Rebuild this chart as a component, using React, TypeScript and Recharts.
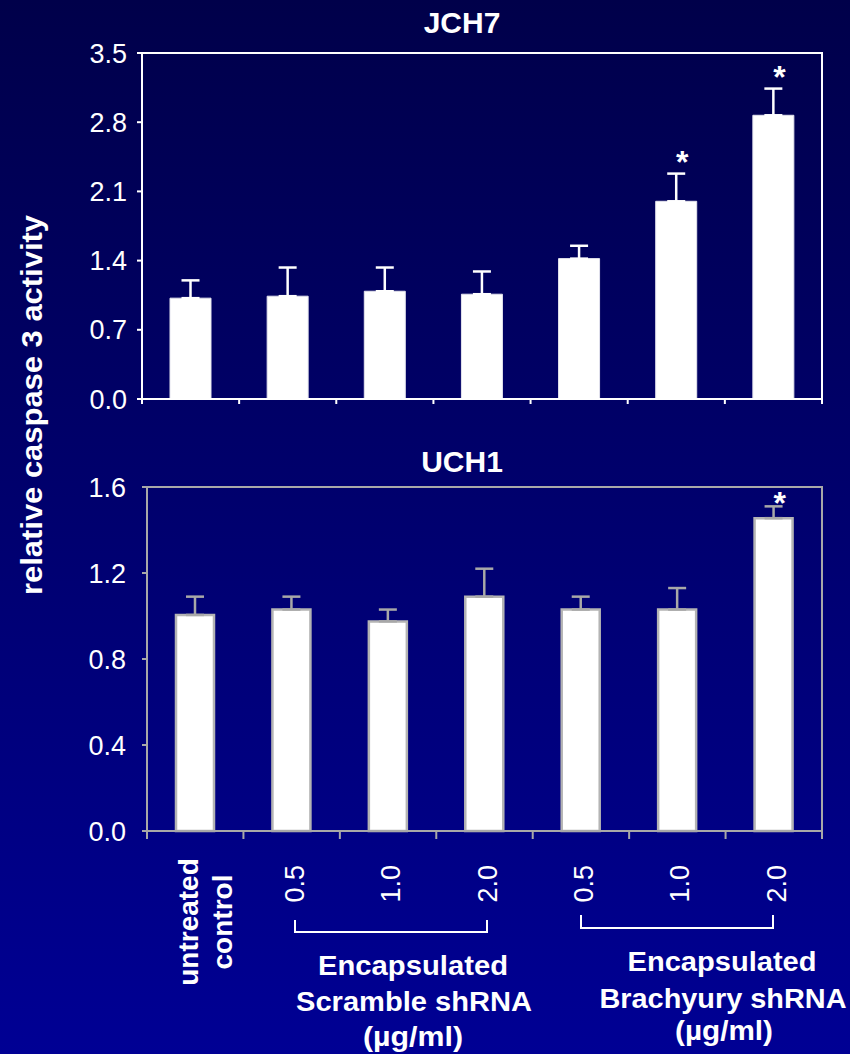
import React from "react";
import { Bar, ComposedChart, ErrorBar, Scatter, XAxis, YAxis } from "recharts";

const groups = ["ctrl", "scr05", "scr10", "scr20", "bra05", "bra10", "bra20"];
const doseLabels = ["", "0.5", "1.0", "2.0", "0.5", "1.0", "2.0"];
const controlLabel = ["untreated", "control"];

const jch7Mean = [1.02, 1.04, 1.09, 1.06, 1.42, 2.0, 2.87];
const jch7Err = [0.18, 0.29, 0.24, 0.23, 0.13, 0.28, 0.27];
const jch7Sig = [false, false, false, false, false, true, true];
const jch7Ticks = [0, 0.7, 1.4, 2.1, 2.8, 3.5];

const uch1Mean = [1.005, 1.03, 0.975, 1.09, 1.03, 1.03, 1.455];
const uch1Err = [0.085, 0.06, 0.055, 0.13, 0.06, 0.1, 0.055];
const uch1Sig = [false, false, false, false, false, false, true];
const uch1Ticks = [0, 0.4, 0.8, 1.2, 1.6];

const FONT = '"Liberation Sans", Arial, sans-serif';
const RIGHT = 28;

function buildRows(mean: number[], err: number[], sig: boolean[]) {
  return groups.map((key, i) => ({
    key,
    mean: mean[i],
    errRange: [0, err[i]],
    sig: sig[i],
    starY: sig[i] ? mean[i] + err[i] : null,
  }));
}

const jch7Data = buildRows(jch7Mean, jch7Err, jch7Sig);
const uch1Data = buildRows(uch1Mean, uch1Err, uch1Sig);

function XTick(props: any) {
  const { x, y, payload, half, tickLen, color, showLabels } = props;
  const i = props.index ?? payload.index;
  return (
    <g>
      <line x1={x - half} x2={x - half} y1={y} y2={y + tickLen} stroke={color} strokeWidth={2} />
      {i === groups.length - 1 && (
        <line x1={x + half} x2={x + half} y1={y} y2={y + tickLen} stroke={color} strokeWidth={2} />
      )}
      {showLabels && i === 0 &&
        controlLabel.map((t, k) => (
          <text
            key={t}
            x={x - 7 + k * 34}
            y={y + 91}
            transform={`rotate(-90, ${x - 7 + k * 34}, ${y + 91})`}
            textAnchor="middle"
            dominantBaseline="central"
            fill="#fff"
            fontSize={28}
            fontWeight="bold"
            fontFamily={FONT}
          >
            {t}
          </text>
        ))}
      {showLabels && i > 0 && (
        <text
          x={x + 3}
          y={y + 34}
          transform={`rotate(-90, ${x + 3}, ${y + 34})`}
          textAnchor="end"
          dominantBaseline="central"
          fill="#fff"
          fontSize={27}
          fontFamily={FONT}
        >
          {doseLabels[i]}
        </text>
      )}
    </g>
  );
}

function Star(props: any) {
  const { cx, cy, payload, dy } = props;
  if (!payload || !payload.sig || cy == null || isNaN(cy)) return <g />;
  return (
    <text x={cx + 6} y={cy - dy + 18} textAnchor="middle" fill="#fff" fontSize={32} fontWeight="bold" fontFamily={FONT}>
      *
    </text>
  );
}

type PanelProps = {
  data: any[];
  ticks: number[];
  height: number;
  top: number;
  yWidth: number;
  xHeight: number;
  axisColor: string;
  barStroke: string;
  barStrokeWidth: number;
  barSize: number;
  tickMargin: number;
  xTickLen: number;
  showLabels: boolean;
  starDy: number;
};

function Panel(p: PanelProps) {
  const half = (850 - RIGHT - p.yWidth) / groups.length / 2;
  const plotH = p.height - p.top - p.xHeight;
  return (
    <div style={{ position: "relative", width: 850, height: p.height }}>
      <ComposedChart
        width={850}
        height={p.height}
        data={p.data}
        margin={{ top: p.top, right: RIGHT, bottom: 0, left: 0 }}
      >
        <XAxis
          dataKey="key"
          height={p.xHeight}
          axisLine={{ stroke: p.axisColor, strokeWidth: 2 }}
          tickLine={false}
          tickSize={0}
          tickMargin={0}
          interval={0}
          tick={(t: any) => (
            <XTick {...t} half={half} tickLen={p.xTickLen} color={p.axisColor} showLabels={p.showLabels} />
          )}
        />
        <YAxis
          width={p.yWidth}
          domain={[0, p.ticks[p.ticks.length - 1]]}
          ticks={p.ticks}
          tickFormatter={(v: number) => v.toFixed(1)}
          tick={{ fill: "#fff", fontSize: 27, fontFamily: FONT }}
          tickSize={5}
          tickMargin={p.tickMargin}
          tickLine={{ stroke: p.axisColor, strokeWidth: 2 }}
          axisLine={{ stroke: p.axisColor, strokeWidth: 2 }}
          interval={0}
        />
        <Bar
          dataKey="mean"
          fill="#ffffff"
          stroke={p.barStroke}
          strokeWidth={p.barStrokeWidth}
          barSize={p.barSize}
          isAnimationActive={false}
        >
          <ErrorBar dataKey="errRange" direction="y" width={9} stroke={p.axisColor} strokeWidth={2.5} />
        </Bar>
        <Scatter
          dataKey="starY"
          isAnimationActive={false}
          shape={(s: any) => <Star {...s} dy={p.starDy} />}
        />
      </ComposedChart>
      {/* plot frame (top and right edges) */}
      <svg
        width={850}
        height={p.height}
        style={{ position: "absolute", left: 0, top: 0, pointerEvents: "none" }}
      >
        <polyline
          points={`${p.yWidth},${p.top} ${850 - RIGHT},${p.top} ${850 - RIGHT},${p.top + plotH}`}
          fill="none"
          stroke={p.axisColor}
          strokeWidth={2}
        />
      </svg>
    </div>
  );
}

export default function App() {
  const textProps = { fill: "#fff", fontWeight: "bold" as const, fontFamily: FONT };
  return (
    <div
      style={{
        position: "absolute",
        left: 0,
        top: 0,
        width: 850,
        height: 1054,
        background: "linear-gradient(to bottom, #00004a, #000094)",
        fontFamily: FONT,
        overflow: "hidden",
      }}
    >
      <div style={{ position: "absolute", left: 0, top: 0 }}>
        <Panel
          data={jch7Data}
          ticks={jch7Ticks}
          height={430}
          top={53}
          yWidth={142}
          xHeight={31}
          axisColor="#ffffff"
          barStroke="#e4e4ee"
          barStrokeWidth={1}
          barSize={41}
          tickMargin={10}
          xTickLen={5}
          showLabels={false}
          starDy={19}
        />
      </div>
      <div style={{ position: "absolute", left: 0, top: 430 }}>
        <Panel
          data={uch1Data}
          ticks={uch1Ticks}
          height={624}
          top={57}
          yWidth={147}
          xHeight={223}
          axisColor="#a8a8a8"
          barStroke="#b4b4b4"
          barStrokeWidth={2.5}
          barSize={38}
          tickMargin={16}
          xTickLen={8}
          showLabels={true}
          starDy={10}
        />
      </div>
      <svg width={850} height={1054} style={{ position: "absolute", left: 0, top: 0, pointerEvents: "none" }}>
        <text x={462} y={33} textAnchor="middle" fontSize={30} {...textProps}>
          JCH7
        </text>
        <text x={462} y={472} textAnchor="middle" fontSize={30} {...textProps}>
          UCH1
        </text>
        <text
          x={31}
          y={405}
          transform="rotate(-90, 31, 405)"
          textAnchor="middle"
          dominantBaseline="central"
          fontSize={30}
          textLength={380}
          lengthAdjust="spacingAndGlyphs"
          {...textProps}
        >
          relative caspase 3 activity
        </text>
        <path d="M295 920 V932 H487 V920" fill="none" stroke="#fff" strokeWidth={2} />
        <path d="M581 915 V928 H773 V915" fill="none" stroke="#fff" strokeWidth={2} />
        <text x={413} y={975} textAnchor="middle" fontSize={27} textLength={190} lengthAdjust="spacingAndGlyphs" {...textProps}>
          Encapsulated
        </text>
        <text x={414} y={1011} textAnchor="middle" fontSize={27} textLength={236} lengthAdjust="spacingAndGlyphs" {...textProps}>
          Scramble shRNA
        </text>
        <text x={413} y={1046} textAnchor="middle" fontSize={27} textLength={100} lengthAdjust="spacingAndGlyphs" {...textProps}>
          (µg/ml)
        </text>
        <text x={722} y={971} textAnchor="middle" fontSize={27} textLength={189} lengthAdjust="spacingAndGlyphs" {...textProps}>
          Encapsulated
        </text>
        <text x={723} y={1008} textAnchor="middle" fontSize={27} textLength={247} lengthAdjust="spacingAndGlyphs" {...textProps}>
          Brachyury shRNA
        </text>
        <text x={724} y={1040} textAnchor="middle" fontSize={27} textLength={98} lengthAdjust="spacingAndGlyphs" {...textProps}>
          (µg/ml)
        </text>
      </svg>
    </div>
  );
}
